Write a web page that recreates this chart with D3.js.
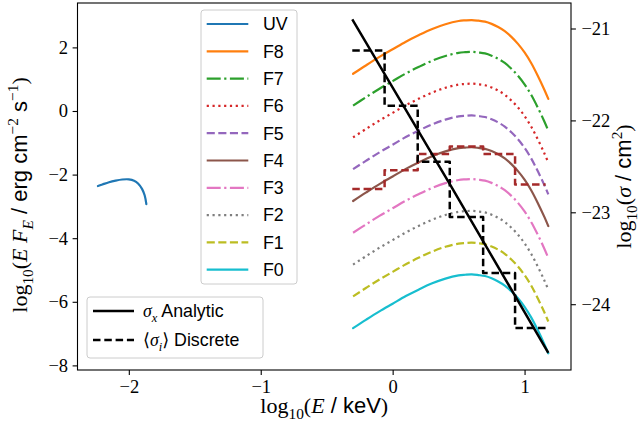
<!DOCTYPE html>
<html><head><meta charset="utf-8">
<script src="https://cdn.jsdelivr.net/npm/d3@7"></script>
<style>
html,body{margin:0;padding:0;background:#fff;}
svg{display:block;}
text{white-space:pre;}
</style></head><body>
<svg id="chart" width="641" height="430"></svg>
<script>
// log10(E / keV) sampling grid shared by the F-state spectra
const energyGrid = [-0.30,-0.20,-0.10,0.00,0.10,0.20,0.30,0.40,0.50,0.55,0.60,0.65,0.70,0.75,0.80,0.85,0.90,0.95,1.00,1.05,1.10,1.15,1.18];

// log10(E F_E) for each flux state
const fluxF8 = [1.17,1.44,1.70,1.94,2.18,2.39,2.58,2.73,2.83,2.85,2.86,2.84,2.81,2.74,2.64,2.51,2.33,2.11,1.84,1.51,1.11,0.67,0.38];
const fluxF7 = [0.17,0.44,0.70,0.94,1.18,1.39,1.58,1.73,1.83,1.85,1.86,1.84,1.81,1.74,1.64,1.51,1.33,1.11,0.84,0.51,0.11,-0.33,-0.62];
const fluxF6 = [-0.83,-0.56,-0.30,-0.06,0.18,0.39,0.58,0.73,0.83,0.85,0.86,0.84,0.81,0.74,0.64,0.51,0.33,0.11,-0.16,-0.49,-0.89,-1.33,-1.62];
const fluxF5 = [-1.83,-1.56,-1.30,-1.06,-0.82,-0.61,-0.42,-0.27,-0.17,-0.15,-0.14,-0.16,-0.19,-0.26,-0.36,-0.49,-0.67,-0.89,-1.16,-1.49,-1.89,-2.33,-2.62];
const fluxF4 = [-2.83,-2.56,-2.30,-2.06,-1.82,-1.61,-1.42,-1.27,-1.17,-1.15,-1.14,-1.16,-1.19,-1.26,-1.36,-1.49,-1.67,-1.89,-2.16,-2.49,-2.89,-3.33,-3.62];
const fluxF3 = [-3.83,-3.56,-3.30,-3.06,-2.82,-2.61,-2.42,-2.27,-2.17,-2.15,-2.14,-2.16,-2.19,-2.26,-2.36,-2.49,-2.67,-2.89,-3.16,-3.49,-3.89,-4.33,-4.62];
const fluxF2 = [-4.83,-4.56,-4.30,-4.06,-3.82,-3.61,-3.42,-3.27,-3.17,-3.15,-3.14,-3.16,-3.19,-3.26,-3.36,-3.49,-3.67,-3.89,-4.16,-4.49,-4.89,-5.33,-5.62];
const fluxF1 = [-5.83,-5.56,-5.30,-5.06,-4.82,-4.61,-4.42,-4.27,-4.17,-4.15,-4.14,-4.16,-4.19,-4.26,-4.36,-4.49,-4.67,-4.89,-5.16,-5.49,-5.89,-6.33,-6.62];
const fluxF0 = [-6.83,-6.56,-6.30,-6.06,-5.82,-5.61,-5.42,-5.27,-5.17,-5.15,-5.14,-5.16,-5.19,-5.26,-5.36,-5.49,-5.67,-5.89,-6.16,-6.49,-6.89,-7.33,-7.62];

// UV component
const uvEnergy = [-2.234,-2.20,-2.15,-2.10,-2.05,-2.00,-1.96,-1.93,-1.90,-1.88,-1.867];
const uvFlux   = [-2.36,-2.31,-2.24,-2.19,-2.155,-2.15,-2.19,-2.28,-2.45,-2.65,-2.93];

// Analytic cross-section, log10(sigma / cm^2)
const sigmaEnergy   = [-0.306, 0.44, 1.18];
const sigmaAnalytic = [-20.90, -22.71, -24.53];

// Band-averaged values on the discrete energy bins
const binEdges      = [-0.306,-0.061,0.19,0.433,0.686,0.928,1.16];
const sigmaBinned   = [-21.24,-21.84,-22.45,-23.05,-23.66,-24.26];
const fluxF4Binned  = [-2.45,-1.86,-1.35,-1.12,-1.35,-2.31];

const xTicks = [-2,-1,0,1];
const yTicks = [-8,-6,-4,-2,0,2];
const sigmaTicks = [-24,-23,-22,-21];

const legendNames = ["UV","F8","F7","F6","F5","F4","F3","F2","F1","F0"];
const fluxSeries = {F8:fluxF8,F7:fluxF7,F6:fluxF6,F5:fluxF5,F4:fluxF4,F3:fluxF3,F2:fluxF2,F1:fluxF1,F0:fluxF0};

// line styles
const LW = 2.2;
const DASHED = "8.1,3.5", DASHDOT = "14,3.5,2.2,3.5", DOTTED = "2.2,3.6";
const styleOf = {
  UV:{c:"#1f77b4",d:null}, F8:{c:"#ff7f0e",d:null}, F7:{c:"#2ca02c",d:DASHDOT},
  F6:{c:"#d62728",d:DOTTED}, F5:{c:"#9467bd",d:DASHED}, F4:{c:"#8c564b",d:null},
  F3:{c:"#e377c2",d:DASHDOT}, F2:{c:"#7f7f7f",d:DOTTED}, F1:{c:"#bcbd22",d:DASHED},
  F0:{c:"#17becf",d:null}
};

const SERIF = "'Liberation Serif','DejaVu Serif',serif";
const SANS = "'Liberation Sans',Arial,'DejaVu Sans',sans-serif";
const TICK_FS = 18.5, LABEL_FS = 22, LEGEND_FS = 17.8;

const L = 77.5, R = 571, T = 3, B = 370;
const svg = d3.select("#chart");
const x  = d3.scaleLinear().domain([-2.389, 1.352]).range([L, R]);
const y  = d3.scaleLinear().domain([-8.145, 3.396]).range([B, T]);
const ys = d3.scaleLinear().domain([-24.716, -20.7225]).range([B, T]);

svg.append("defs").append("clipPath").attr("id","plotClip")
  .append("rect").attr("x",L).attr("y",T).attr("width",R-L).attr("height",B-T);
const plot = svg.append("g").attr("clip-path","url(#plotClip)");

const line = (xs, vs, sy) => d3.line().x((d,i)=>x(xs[i])).y(d=>sy(d)).curve(d3.curveCatmullRom.alpha(0.5))(vs);

function drawPath(dStr, color, dash, w) {
  const p = plot.append("path").attr("d", dStr).attr("fill","none")
    .attr("stroke", color).attr("stroke-width", w).attr("stroke-linejoin","round");
  if (dash) p.attr("stroke-dasharray", dash).attr("stroke-linecap","butt");
  else p.attr("stroke-linecap","round");
  return p;
}

// UV spectrum
drawPath(line(uvEnergy, uvFlux, y), styleOf.UV.c, null, LW);
// flux states
["F8","F7","F6","F5","F4","F3","F2","F1","F0"].forEach(k => {
  drawPath(line(energyGrid, fluxSeries[k], y), styleOf[k].c, styleOf[k].d, LW);
});

// binned steps
const stepLine = (vals, sy) => {
  const pts = vals.map((v,i)=>[binEdges[i], v]);
  pts.push([binEdges[binEdges.length-1], vals[vals.length-1]]);
  return d3.line().x(d=>x(d[0])).y(d=>sy(d[1])).curve(d3.curveStepAfter)(pts);
};
drawPath(stepLine(fluxF4Binned, y), "#a52a2a", "7.5,3.8", 2.5);

// analytic cross-section and discrete average
drawPath(d3.line().x((d,i)=>x(sigmaEnergy[i])).y(d=>ys(d))(sigmaAnalytic), "#000", null, 2.5)
  .attr("stroke-linecap","butt");
drawPath(stepLine(sigmaBinned, ys), "#000", "7.5,3.8", 2.5);

// axes
const fmt = d => d < 0 ? "\u2212" + Math.abs(d) : String(d);
function styleAxis(g) {
  g.select(".domain").remove();
  g.selectAll(".tick line").attr("stroke","#000").attr("stroke-width",1.1);
  g.selectAll(".tick text").attr("font-family",SERIF).attr("font-size",TICK_FS).attr("fill","#000");
}
svg.append("g").attr("transform",`translate(0,${B})`)
  .call(d3.axisBottom(x).tickValues(xTicks).tickFormat(fmt).tickSize(4.9).tickPadding(4.5).tickSizeOuter(0))
  .call(styleAxis);
svg.append("g").attr("transform",`translate(${L},0)`)
  .call(d3.axisLeft(y).tickValues(yTicks).tickFormat(fmt).tickSize(4.9).tickPadding(4.5).tickSizeOuter(0))
  .call(styleAxis);
svg.append("g").attr("transform",`translate(${R},0)`)
  .call(d3.axisRight(ys).tickValues(sigmaTicks).tickFormat(fmt).tickSize(4.9).tickPadding(5.5).tickSizeOuter(0))
  .call(styleAxis);

svg.append("rect").attr("x",L).attr("y",T).attr("width",R-L).attr("height",B-T)
  .attr("fill","none").attr("stroke","#000").attr("stroke-width",1.1);

// rich text with sub/superscripts
function richText(sel, parts, fs) {
  let shift = 0;
  parts.forEach(p => {
    const target = p.sub ? fs*0.26 : p.sup ? -fs*0.42 : 0;
    sel.append("tspan").text(p.t)
      .attr("dy", target - shift)
      .attr("font-size", (p.sub||p.sup) ? fs*0.7 : fs)
      .attr("font-family", p.sans ? SANS : SERIF)
      .attr("font-style", p.it ? "italic" : "normal");
    shift = target;
  });
}

// axis labels
richText(svg.append("text").attr("text-anchor","middle").attr("x",(L+R)/2).attr("y",413),
  [{t:"log"},{t:"10",sub:1},{t:"("},{t:"E",it:1},{t:" / keV",sans:1},{t:")"}], LABEL_FS);

richText(svg.append("text").attr("text-anchor","middle")
  .attr("transform",`translate(27,195) rotate(-90)`),
  [{t:"log"},{t:"10",sub:1},{t:"("},{t:"E",it:1},{t:" "},{t:"F",it:1},{t:"E",it:1,sub:1},
   {t:" / erg cm",sans:1},{t:"\u22122",sup:1},{t:" s",sans:1},{t:"\u22121",sup:1},{t:")"}], LABEL_FS);

richText(svg.append("text").attr("text-anchor","middle")
  .attr("transform",`translate(631,${(T+B)/2}) rotate(-90)`),
  [{t:"log"},{t:"10",sub:1},{t:"("},{t:"\u03c3",it:1},{t:" / cm",sans:1},{t:"2",sup:1},{t:")"}], LABEL_FS);

// legend: spectra
const lg1 = svg.append("g");
lg1.append("rect").attr("x",201).attr("y",10).attr("width",96).attr("height",274).attr("rx",3)
  .attr("fill","#fff").attr("fill-opacity",0.8).attr("stroke","#cccccc").attr("stroke-width",1);
legendNames.forEach((k,i) => {
  const cy = 24 + 27.3*i;
  const ln = lg1.append("line").attr("x1",206.7).attr("x2",248.3).attr("y1",cy).attr("y2",cy)
    .attr("stroke",styleOf[k].c).attr("stroke-width",LW);
  if (styleOf[k].d) ln.attr("stroke-dasharray",styleOf[k].d);
  lg1.append("text").attr("x",263).attr("y",cy+6.3).attr("font-family",SANS).attr("font-size",LEGEND_FS).text(k);
});

// legend: cross-sections
const lg2 = svg.append("g");
lg2.append("rect").attr("x",87).attr("y",297).attr("width",176).attr("height",61).attr("rx",3)
  .attr("fill","#fff").attr("fill-opacity",0.8).attr("stroke","#cccccc").attr("stroke-width",1);
[[311,null],[340,"7.5,3.8"]].forEach(([cy,dash]) => {
  const ln = lg2.append("line").attr("x1",93).attr("x2",134).attr("y1",cy).attr("y2",cy)
    .attr("stroke","#000").attr("stroke-width",2.5);
  if (dash) ln.attr("stroke-dasharray",dash);
});
richText(lg2.append("text").attr("x",143).attr("y",317),
  [{t:"\u03c3",it:1},{t:"x",it:1,sub:1},{t:" Analytic",sans:1}], LEGEND_FS);
richText(lg2.append("text").attr("x",143).attr("y",346),
  [{t:"\u27e8"},{t:"\u03c3",it:1},{t:"i",it:1,sub:1},{t:"\u27e9"},{t:" Discrete",sans:1}], LEGEND_FS);
</script></body></html>
